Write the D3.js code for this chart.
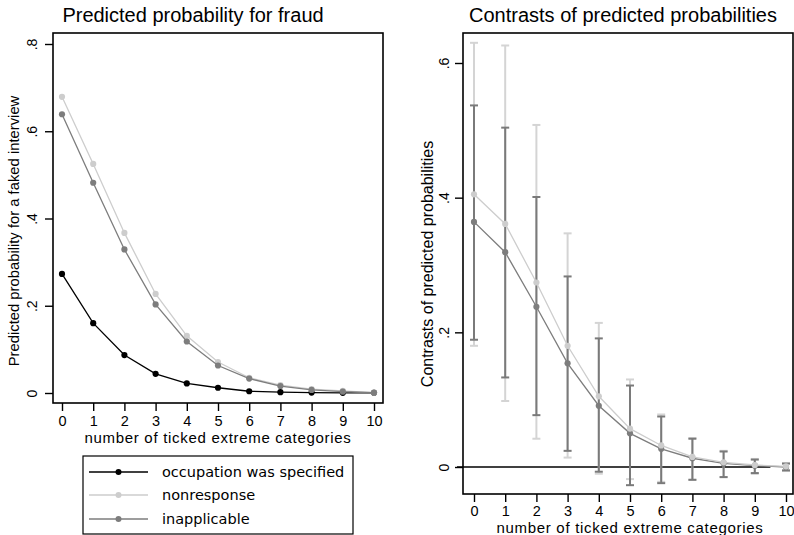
<!DOCTYPE html>
<html>
<head>
<meta charset="utf-8">
<script src="https://cdn.jsdelivr.net/npm/d3@7"></script>
<style>
  html, body { margin: 0; padding: 0; background: #fff; }
  svg { display: block; }
  text { font-family: "Liberation Sans", Arial, sans-serif; fill: #000; }
  .legend text { font-family: "DejaVu Sans", sans-serif; }
</style>
</head>
<body>
<svg id="chart" width="794" height="535"></svg>
<script>
// Number of ticked extreme categories (x axis of both panels)
const categories = [0, 1, 2, 3, 4, 5, 6, 7, 8, 9, 10];

// Predicted probability of a faked interview, by occupation answer
const occupationSpecified = [0.273, 0.160, 0.087, 0.044, 0.022, 0.012, 0.004, 0.002, 0.001, 0.0005, 0.0003];
const nonresponse         = [0.679, 0.525, 0.367, 0.227, 0.131, 0.071, 0.035, 0.018, 0.009, 0.005, 0.001];
const inapplicable        = [0.639, 0.482, 0.329, 0.203, 0.118, 0.063, 0.033, 0.016, 0.007, 0.003, 0.001];

// Contrasts against "occupation was specified", with confidence limits
const nonresponseContrast  = [0.405, 0.361, 0.274, 0.180, 0.105, 0.057, 0.032, 0.015, 0.007, 0.003, 0.001];
const nonresponseLow       = [0.180, 0.098, 0.042, 0.014, -0.010, -0.018, -0.022, -0.019, -0.015, -0.010, -0.006];
const nonresponseHigh      = [0.630, 0.626, 0.508, 0.347, 0.214, 0.130, 0.078, 0.043, 0.024, 0.012, 0.006];
const inapplicableContrast = [0.364, 0.319, 0.238, 0.154, 0.091, 0.050, 0.027, 0.013, 0.0055, 0.002, 0.000];
const inapplicableLow      = [0.189, 0.133, 0.077, 0.024, -0.007, -0.027, -0.024, -0.019, -0.015, -0.009, -0.005];
const inapplicableHigh     = [0.537, 0.504, 0.401, 0.283, 0.191, 0.121, 0.075, 0.042, 0.023, 0.011, 0.005];

// Tick labels
const leftYTicks  = [0, 0.2, 0.4, 0.6, 0.8];
const rightYTicks = [0, 0.2, 0.4, 0.6];
const tickLabel = v => v === 0 ? "0" : String(v).replace(/^0/, "");

const legendLabels = ["occupation was specified", "nonresponse", "inapplicable"];

const BLACK = "#000000", LIGHT = "#cdcdcd", DARK = "#7d7d7d";
const CI_LIGHT = "#d4d4d4", CI_DARK = "#7a7a7a";

const svg = d3.select("#chart");

// ---------- shared helpers ----------
function drawLine(g, x, y, values, color) {
  const line = d3.line().x((d, i) => x(categories[i])).y(d => y(d));
  g.append("path").datum(values)
    .attr("fill", "none").attr("stroke", color).attr("stroke-width", 1.3)
    .attr("d", line);
}
function drawPoints(g, x, y, values, color) {
  g.selectAll(null).data(values).enter().append("circle")
    .attr("cx", (d, i) => x(categories[i])).attr("cy", d => y(d))
    .attr("r", 3.1).attr("fill", color);
}
function drawFrame(g, box) {
  g.append("rect")
    .attr("x", box.left).attr("y", box.top)
    .attr("width", box.right - box.left).attr("height", box.bottom - box.top)
    .attr("fill", "none").attr("stroke", "#000").attr("stroke-width", 1.6);
}
function drawXAxis(g, x, box, labelY, titleY, title) {
  const ax = g.append("g").attr("transform", `translate(0,${box.bottom})`)
    .call(d3.axisBottom(x).tickValues(categories).tickSize(8).tickPadding(5).tickFormat(d3.format("d")));
  ax.select(".domain").remove();
  ax.selectAll(".tick line").attr("stroke", "#000").attr("stroke-width", 1.4);
  ax.selectAll(".tick text").attr("font-size", 14.5).attr("font-family", "Liberation Sans, Arial, sans-serif")
    .attr("y", labelY - box.bottom).attr("dy", "0.35em");
  g.append("text").attr("x", (x(0) + x(10)) / 2).attr("y", titleY)
    .attr("text-anchor", "middle").attr("font-size", 15).attr("letter-spacing", 0.7).text(title);
}
function drawYAxis(g, y, box, ticks, labelX, titleX, titleY, title, titleSize) {
  const ax = g.append("g").attr("transform", `translate(${box.left},0)`)
    .call(d3.axisLeft(y).tickValues(ticks).tickSize(8).tickFormat(tickLabel));
  ax.select(".domain").remove();
  ax.selectAll(".tick line").attr("stroke", "#000").attr("stroke-width", 1.4);
  ax.selectAll(".tick text").remove();
  ax.selectAll(".tick").append("text")
    .attr("transform", `translate(${labelX - box.left},0) rotate(-90)`)
    .attr("text-anchor", "middle").attr("dy", "0.35em")
    .attr("font-size", 14).attr("fill", "#000")
    .attr("font-family", "Liberation Sans, Arial, sans-serif")
    .text(tickLabel);
  g.append("text").attr("transform", `translate(${titleX},${titleY}) rotate(-90)`)
    .attr("text-anchor", "middle").attr("dy", "0.35em")
    .attr("font-size", titleSize).text(title);
}

// ---------- left panel: predicted probabilities ----------
{
  const box = { left: 53, right: 383, top: 33, bottom: 403 };
  const x = d3.scaleLinear().domain([0, 10]).range([62, 374]);
  const y = d3.scaleLinear().domain([0, 0.8]).range([393, 44]);
  const g = svg.append("g");

  g.append("text").attr("x", 193).attr("y", 22).attr("text-anchor", "middle")
    .attr("font-size", 20).text("Predicted probability for fraud");

  drawFrame(g, box);
  drawXAxis(g, x, box, 420.5, 442.5, "number of ticked extreme categories");
  drawYAxis(g, y, box, leftYTicks, 32, 14, 231, "Predicted probability for a faked interview", 14.8);

  [[occupationSpecified, BLACK], [nonresponse, LIGHT], [inapplicable, DARK]].forEach(([vals, c]) => {
    drawLine(g, x, y, vals, c);
    drawPoints(g, x, y, vals, c);
  });

  // legend
  const lg = g.append("g").attr("class", "legend");
  lg.append("rect").attr("x", 83).attr("y", 456).attr("width", 270).attr("height", 78)
    .attr("fill", "#fff").attr("stroke", "#000").attr("stroke-width", 1.2);
  const rows = [472, 495, 519];
  [BLACK, LIGHT, DARK].forEach((c, i) => {
    lg.append("line").attr("x1", 89).attr("x2", 148).attr("y1", rows[i]).attr("y2", rows[i])
      .attr("stroke", c).attr("stroke-width", 1.3);
    lg.append("circle").attr("cx", 118.5).attr("cy", rows[i]).attr("r", 3).attr("fill", c);
    lg.append("text").attr("x", 162).attr("y", rows[i]).attr("dy", "0.35em")
      .attr("font-size", 14.5).text(legendLabels[i]);
  });
}

// ---------- right panel: contrasts ----------
{
  const box = { left: 463, right: 793, top: 33, bottom: 494 };
  const x = d3.scaleLinear().domain([0, 10]).range([474, 786]);
  const y = d3.scaleLinear().domain([0, 0.6]).range([467, 63]);
  const g = svg.append("g");

  g.append("text").attr("x", 623).attr("y", 22).attr("text-anchor", "middle")
    .attr("font-size", 20).text("Contrasts of predicted probabilities");

  drawFrame(g, box);
  drawXAxis(g, x, box, 510.5, 532.5, "number of ticked extreme categories");
  drawYAxis(g, y, box, rightYTicks, 444, 427, 264, "Contrasts of predicted probabilities", 16);

  // reference line at zero
  g.append("line").attr("x1", 457).attr("x2", x(9.5)).attr("y1", y(0)).attr("y2", y(0))
    .attr("stroke", "#000").attr("stroke-width", 1.6);

  function ciBars(low, high, color) {
    const cg = g.append("g").attr("stroke", color).attr("stroke-width", 2);
    categories.forEach((c, i) => {
      const cx = x(c);
      cg.append("line").attr("x1", cx).attr("x2", cx).attr("y1", y(low[i])).attr("y2", y(high[i]));
      cg.append("line").attr("x1", cx - 4).attr("x2", cx + 4).attr("y1", y(low[i])).attr("y2", y(low[i]));
      cg.append("line").attr("x1", cx - 4).attr("x2", cx + 4).attr("y1", y(high[i])).attr("y2", y(high[i]));
    });
  }
  ciBars(nonresponseLow, nonresponseHigh, CI_LIGHT);
  ciBars(inapplicableLow, inapplicableHigh, CI_DARK);

  drawLine(g, x, y, inapplicableContrast, DARK);
  drawPoints(g, x, y, inapplicableContrast, DARK);
  drawLine(g, x, y, nonresponseContrast, LIGHT);
  drawPoints(g, x, y, nonresponseContrast, LIGHT);
}
</script>
</body>
</html>
